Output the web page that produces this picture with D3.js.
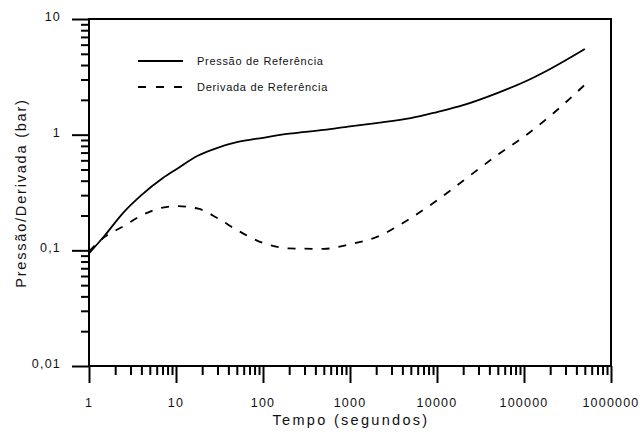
<!DOCTYPE html>
<html>
<head>
<meta charset="utf-8">
<script src="https://cdn.jsdelivr.net/npm/d3@7"></script>
<style>
  body { margin: 0; background: #fff; }
  text { font-family: "Liberation Sans", Arial, sans-serif; fill: #111; }
</style>
</head>
<body>
<div id="chart"></div>
<script>
(function(){

// time (s) and the two reference series
var tempo = [1, 1.5, 2.5, 4, 7, 10, 18, 30, 50, 100, 200, 500, 1000, 2000, 5000, 10000, 20000, 50000, 100000, 200000, 500000];
var pressao = [0.094, 0.133, 0.213, 0.30, 0.42, 0.50, 0.66, 0.77, 0.86, 0.94, 1.02, 1.10, 1.18, 1.26, 1.39, 1.57, 1.80, 2.30, 2.85, 3.7, 5.5];
var derivada = [0.098, 0.13, 0.162, 0.20, 0.234, 0.241, 0.229, 0.19, 0.15, 0.116, 0.104, 0.103, 0.113, 0.13, 0.19, 0.27, 0.40, 0.67, 0.96, 1.45, 2.7];

var xMajor = [1, 10, 100, 1000, 10000, 100000, 1000000];
var xLabels = ["1", "10", "100", "1000", "10000", "100000", "1000000"];
var yMajor = [0.01, 0.1, 1, 10];
var yLabels = ["0,01", "0,1", "1", "10"];
var series = ["Pressão de Referência", "Derivada de Referência"];

var width = 642, height = 434;
var margin = {left: 89, right: 31, top: 19, bottom: 68};

var svg = d3.select("#chart")
  .append("svg")
  .attr("width", width)
  .attr("height", height);

var x = d3.scaleLog()
  .domain([1, 1000000])
  .range([margin.left, width - margin.right]);

var y = d3.scaleLog()
  .domain([0.01, 10])
  .range([height - margin.bottom, margin.top]);

// minor ticks 2..9 per decade
function minors(lo, hi){
  var out = [];
  for (var d = lo; d < hi; d *= 10){
    for (var k = 2; k <= 9; k++) out.push(d * k);
  }
  return out;
}

var bottom = height - margin.bottom;

var gx = svg.append("g").attr("transform", "translate(0," + bottom + ")");
gx.append("g").call(d3.axisBottom(x).tickValues(minors(1, 1000000)).tickSize(9).tickFormat(""));
gx.append("g").call(d3.axisBottom(x).tickValues(xMajor).tickSize(17).tickFormat(""));

var gy = svg.append("g").attr("transform", "translate(" + margin.left + ",0)");
gy.append("g").call(d3.axisLeft(y).tickValues(minors(0.01, 10)).tickSize(8).tickFormat(""));
gy.append("g").call(d3.axisLeft(y).tickValues(yMajor).tickSize(17).tickFormat(""));

svg.selectAll(".domain").remove();
svg.selectAll(".tick line").attr("stroke", "#000").attr("stroke-width", 2);

// frame
svg.append("rect")
  .attr("x", x(1))
  .attr("y", y(10))
  .attr("width", x(1000000) - x(1))
  .attr("height", y(0.01) - y(10))
  .attr("fill", "none")
  .attr("stroke", "#000")
  .attr("stroke-width", 2);

// tick labels
svg.selectAll(".xlab")
  .data(xMajor)
  .enter()
  .append("text")
  .attr("class", "xlab")
  .attr("x", function(d){ return x(d); })
  .attr("y", bottom + 41)
  .attr("text-anchor", "middle")
  .style("font-size", "12.5px")
  .style("letter-spacing", "1.2px")
  .text(function(d, i){ return xLabels[i]; });

svg.selectAll(".ylab")
  .data(yMajor)
  .enter()
  .append("text")
  .attr("class", "ylab")
  .attr("x", 61)
  .attr("y", function(d){ return y(d) + 2; })
  .attr("text-anchor", "end")
  .style("font-size", "12.5px")
  .style("letter-spacing", "1.2px")
  .text(function(d, i){ return yLabels[i]; });

// axis titles
svg.append("text")
  .attr("x", 351)
  .attr("y", 425)
  .attr("text-anchor", "middle")
  .style("font-size", "14.5px")
  .style("letter-spacing", "2.3px")
  .text("Tempo (segundos)");

svg.append("text")
  .attr("transform", "translate(26,193) rotate(-90)")
  .attr("text-anchor", "middle")
  .style("font-size", "14.5px")
  .style("letter-spacing", "1.8px")
  .text("Pressão/Derivada (bar)");

// curves
var line = d3.line()
  .x(function(d){ return x(d[0]); })
  .y(function(d){ return y(d[1]); })
  .curve(d3.curveMonotoneX);

svg.append("path")
  .datum(d3.zip(tempo, pressao))
  .attr("d", line)
  .attr("fill", "none")
  .attr("stroke", "#000")
  .attr("stroke-width", 1.8);

svg.append("path")
  .datum(d3.zip(tempo, derivada))
  .attr("d", line)
  .attr("fill", "none")
  .attr("stroke", "#000")
  .attr("stroke-width", 1.8)
  .attr("stroke-dasharray", "8,9");

// legend
var legend = svg.selectAll(".legend")
  .data(series)
  .enter()
  .append("g")
  .attr("class", "legend")
  .attr("transform", function(d, i){ return "translate(138," + (61 + i * 26) + ")"; });

legend.append("line")
  .attr("x1", 0)
  .attr("x2", 45)
  .attr("stroke", "#000")
  .attr("stroke-width", 1.8)
  .attr("stroke-dasharray", function(d, i){ return i ? "8,10" : null; });

legend.append("text")
  .attr("x", 59)
  .attr("dy", "0.35em")
  .style("font-size", "11px")
  .style("letter-spacing", "0.7px")
  .text(function(d){ return d; });

})();
</script>
</body>
</html>
